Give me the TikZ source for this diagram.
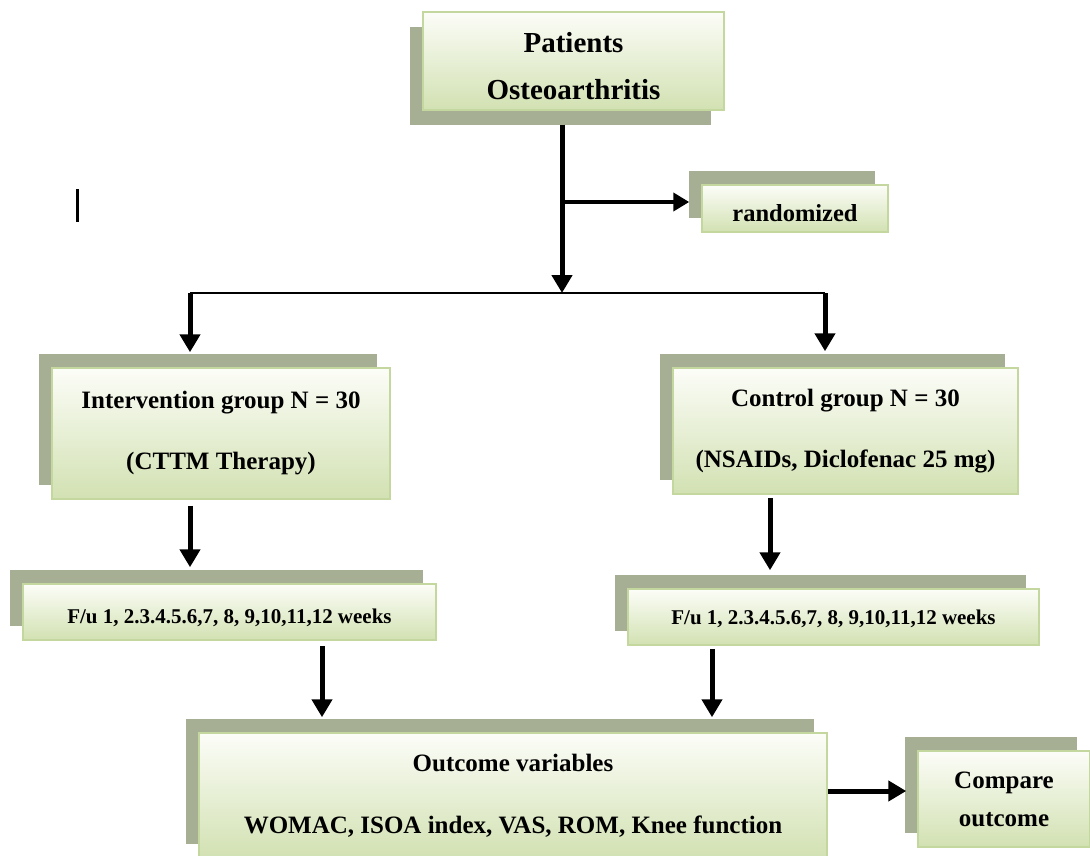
\documentclass[tikz,border=0pt]{standalone}
\usepackage{fontspec}
\setmainfont{Liberation Serif}
\usepackage{tikz}
\usetikzlibrary{arrows.meta, calc, shadows}
\definecolor{shadowGray}{RGB}{166,174,148}
\definecolor{boxGreen}{RGB}{210,225,178}
\definecolor{boxLight}{RGB}{252,253,248}
\definecolor{boxLine}{RGB}{196,215,158}

\begin{document}
\begin{tikzpicture}[x=1pt, y=-1pt, line cap=butt,
	box/.style={draw=boxLine, line width=1.5pt, top color=boxLight, bottom color=boxGreen, inner sep=0pt, align=center, font=\bfseries\fontsize{25}{61}\selectfont},
	shadow up/.style={general shadow={fill=shadowGray, shadow xshift=-13pt, shadow yshift=14pt}},
	shadow down/.style={general shadow={fill=shadowGray, shadow xshift=-13pt, shadow yshift=-15pt}},
	arr/.style={line width=5pt, -{Triangle[length=18pt, width=20pt]}}]

	\useasboundingbox (0,0) rectangle (1090,856);

	\node[box, shadow down, minimum width=301pt, minimum height=98pt, font=\bfseries\fontsize{29}{47}\selectfont] (Pat) at (573.5,61) {\rule{0pt}{31pt}Patients\\Osteoarthritis};
	\node[box, shadow up, minimum width=186pt, minimum height=47pt, font=\bfseries\fontsize{24.5}{30}\selectfont, text height=26pt, text depth=0pt] (Rand) at (795,208.5) {randomized};
	\node[box, shadow up, minimum width=338pt, minimum height=131pt] (Int) at (221,433.5) {Intervention group N = 30\\(CTTM Therapy)};
	\node[box, shadow up, minimum width=345pt, minimum height=126pt] (Ctrl) at (845.5,431) {Control group N = 30\\(NSAIDs, Diclofenac 25 mg)};
	\node[box, shadow up, minimum width=413pt, minimum height=56pt, font=\bfseries\fontsize{21}{25}\selectfont, text height=23pt, text depth=0pt] (FuI) at (229.5,612) {F/u 1, 2.3.4.5.6,7, 8, 9,10,11,12 weeks};
	\node[box, shadow up, minimum width=411pt, minimum height=56pt, font=\bfseries\fontsize{21}{25}\selectfont, text height=15pt, text depth=0pt] (FuC) at (833.5,617) {F/u 1, 2.3.4.5.6,7, 8, 9,10,11,12 weeks};
	\node[box, shadow up, minimum width=628pt, minimum height=125pt, font=\bfseries\fontsize{25}{62}\selectfont] (Out) at (513,795.5) {Outcome variables\\WOMAC, ISOA index, VAS, ROM, Knee function};
	\node[box, shadow up, minimum width=172pt, minimum height=96pt, font=\bfseries\fontsize{25}{38}\selectfont] (Cmp) at (1004,799) {Compare\\outcome};

	\coordinate (J) at (562,293);
	\coordinate (K) at (562,202);
	\coordinate (Jl) at (190,293);
	\coordinate (Jr) at (825,293);
	\coordinate (M) at (0,791);
	\coordinate (A1) at ($(Int.south -| Jl)+(0,6)$);
	\coordinate (A2) at ($(Ctrl.south)+(-75.5,3)$);
	\coordinate (A3) at ($(FuI.south)+(92.5,5)$);
	\coordinate (A4) at ($(FuC.south)+(-121.5,3)$);
	\coordinate (A0) at ($(Pat.south -| J)+(0,14)$);

	\draw[arr] (A0) -- (J);
	\draw[line width=4pt, -{Triangle[length=16pt, width=18pt]}, shorten >=12pt] (K) -- (K -| Rand.west);
	\draw[line width=1.5pt] (Jl) -- (Jr);
	\draw[arr, shorten >=15pt] (Jl) -- (Jl |- Int.north);
	\draw[arr, shorten >=16pt] (Jr) -- (Jr |- Ctrl.north);

	\draw[arr, shorten >=16pt] (A1) -- (A1 |- FuI.north);
	\draw[arr, shorten >=18pt] (A2) -- (A2 |- FuC.north);
	\draw[arr, shorten >=15pt] (A3) -- (A3 |- Out.north);
	\draw[arr, shorten >=15pt] (A4) -- (A4 |- Out.north);
	\draw[arr, shorten >=11pt] (Out.east |- M) -- (Cmp.west |- M);

	\draw[line width=3pt] (77,189) -- (77,222);

\end{tikzpicture}
\end{document}
